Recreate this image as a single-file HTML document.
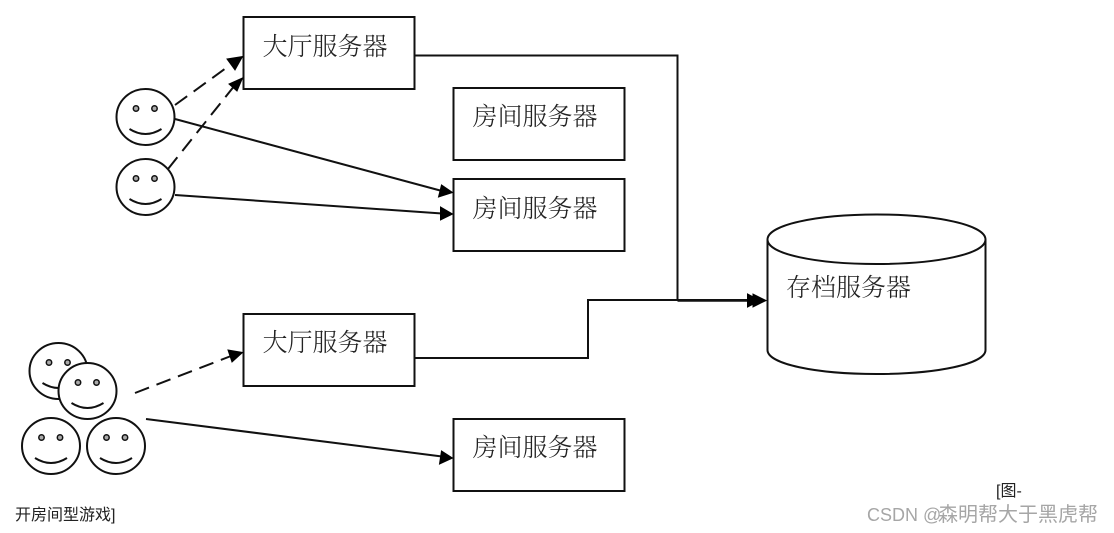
<!DOCTYPE html>
<html><head><meta charset="utf-8">
<style>
html,body{margin:0;padding:0;background:#fff}
svg{display:block}
.t{font-family:"Liberation Serif","Noto Serif CJK SC",serif;font-size:25px;fill:#222;font-weight:300}
.s{font-family:"Liberation Sans","Noto Sans CJK SC",sans-serif;font-size:16px;fill:#222}
</style></head><body>
<svg width="1114" height="533" viewBox="0 0 1114 533" xmlns="http://www.w3.org/2000/svg">
<defs>
<g id="f">
<ellipse cx="0" cy="0" rx="29" ry="28" fill="#fff" stroke="#111" stroke-width="2"/>
<circle cx="-9.500" cy="-8.500" r="2.700" fill="#aaa" stroke="#111" stroke-width="1.500"/>
<circle cx="9" cy="-8.500" r="2.700" fill="#aaa" stroke="#111" stroke-width="1.500"/>
<path d="M-16 12Q0 22 16 12" fill="none" stroke="#111" stroke-width="2"/>
</g>
</defs>
<g fill="none" stroke="#111" stroke-width="2">
<rect x="243.500" y="17" width="171" height="72"/>
<rect x="453.500" y="88" width="171" height="72"/>
<rect x="453.500" y="179" width="171" height="72"/>
<rect x="243.500" y="314" width="171" height="72"/>
<rect x="453.500" y="419" width="171" height="72"/>
<path d="M414.500 55.500H677.500V300H755"/>
<path d="M414.500 358H588V300H755"/>
<path d="M677.500 300.500H750" stroke-width="2.500"/>
<path d="M175 119L442 191"/>
<path d="M175 195L442 213.500"/>
<path d="M146 419L442 456.500"/>
<path d="M175 105L233 63" stroke-dasharray="15 8"/>
<path d="M168 169L235 85" stroke-dasharray="15 8"/>
<path d="M135 393L231 356" stroke-dasharray="15 8"/>
<path d="M767.500 239.500C767.500 225 816 214.500 876.500 214.500S985.500 225 985.500 239.500S937 264 876.500 264S767.500 254 767.500 239.500Z"/>
<path d="M767.500 239.500V350C767.500 364 816 374 876.500 374S985.500 364 985.500 350V239.500"/>
</g>
<g fill="#000" stroke="#000" stroke-width="1" stroke-linejoin="miter">
<polygon points="242.500,56.500 235,70 227,59"/>
<polygon points="242.500,78 237,91 229,84"/>
<polygon points="452.500,192.500 438.500,197 441.500,185"/>
<polygon points="452.500,214 440.500,220 440.500,207"/>
<polygon points="242.500,352.500 232,362 228,350"/>
<polygon points="452.500,458 439.500,464 441.500,451"/>
<polygon points="766,300.500 753,307 753,294"/>
<polygon points="760,300.500 747.500,307 747.500,294"/>
</g>
<use href="#f" x="145.500" y="117"/>
<use href="#f" x="145.500" y="187"/>
<use href="#f" x="58.500" y="371"/>
<use href="#f" x="87.500" y="391"/>
<use href="#f" x="51" y="446"/>
<use href="#f" x="116" y="446"/>
<text class="t" x="262.500" y="55">大厅服务器</text>
<text class="t" x="472.500" y="125">房间服务器</text>
<text class="t" x="472.500" y="217">房间服务器</text>
<text class="t" x="262.500" y="351">大厅服务器</text>
<text class="t" x="472.500" y="456">房间服务器</text>
<text class="t" x="786" y="296">存档服务器</text>
<text class="s" x="15" y="520">开房间型游戏]</text>
<text class="s" x="996" y="496">[图-</text>
<g font-family="'Liberation Sans','Noto Sans CJK SC',sans-serif" fill="#a6a6a6">
<text x="867" y="521" font-size="18">CSDN @</text>
<text x="938" y="521" font-size="20">森明帮大于黑虎帮</text>
</g>
</svg>
</body></html>
